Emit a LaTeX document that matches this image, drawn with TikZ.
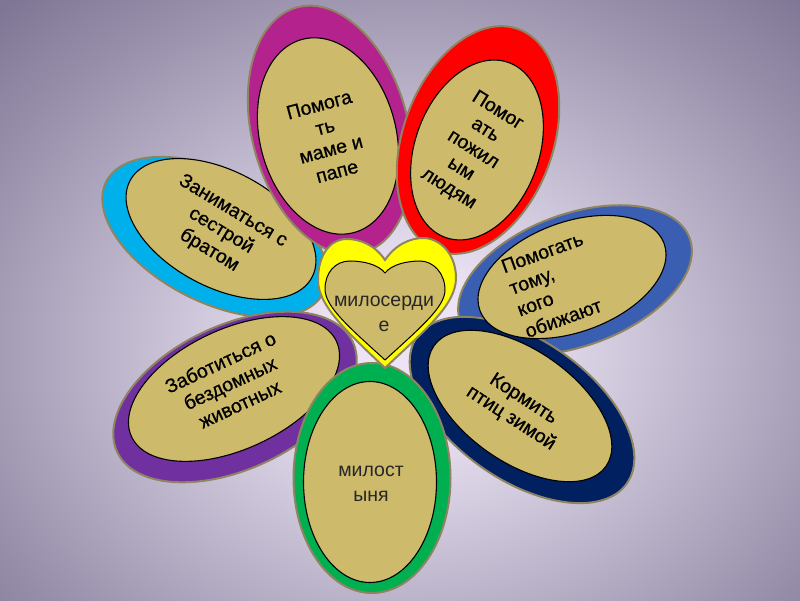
\documentclass[tikz,border=0pt]{standalone}
\usepackage{fontspec}
\setmainfont{Liberation Sans}
\newfontfamily\heavyfont[FakeBold=0.7]{Liberation Sans}
\usetikzlibrary{shapes.geometric}
\definecolor{tanc}{HTML}{CDBB6B}
\definecolor{rimc}{HTML}{8F8462}
\definecolor{cmag}{HTML}{B4228E}
\definecolor{cred}{HTML}{FF0000}
\definecolor{ccyan}{HTML}{00B0EA}
\definecolor{cblue}{HTML}{3A5EB2}
\definecolor{cnavy}{HTML}{002060}
\definecolor{cpurple}{HTML}{7030A0}
\definecolor{cgreen}{HTML}{00B050}
\definecolor{cyellow}{HTML}{FFFF00}
\definecolor{bgA}{HTML}{ECE4F4}
\definecolor{bgB}{HTML}{7E7694}
\pgfdeclareradialshading{bgshade}{\pgfpoint{0bp}{0bp}}{color(0bp)=(bgA); color(5bp)=(bgA); color(34bp)=(bgB); color(50bp)=(bgB)}
\tikzset{
  outerp/.style={ellipse, draw=rimc, line width=2pt, inner sep=0pt},
  innerp/.style={ellipse, draw=black, line width=1.1pt, fill=tanc, inner sep=0pt},
  lbl/.style={align=center, font=\heavyfont\fontsize{19.5}{23}\selectfont, text=black, inner sep=0pt},
  plainlbl/.style={align=center, font=\fontsize{19.5}{25}\selectfont, text=black!85, inner sep=0pt}
}
\begin{document}
\begin{tikzpicture}[x=1pt,y=1pt]
\useasboundingbox (0,0) rectangle (800,600);
\begin{scope}
\clip (0,0) rectangle (800,600);
\shade[shading=bgshade] (-20,-100) rectangle (840,600);
\end{scope}
% cyan petal
\node[outerp, fill=ccyan, rotate=-27, minimum width=244, minimum height=130] (o3) at (215,363) {};
\node[innerp, rotate=-28, minimum width=206, minimum height=116] (i3) at (221,371) {};
% magenta petal
\node[outerp, fill=cmag, rotate=105, minimum width=254, minimum height=156] (o1) at (330,470) {};
\node[innerp, rotate=105, minimum width=200, minimum height=136] (i1) at (328,464) {};
% red petal
\node[outerp, fill=cred, rotate=70, minimum width=236, minimum height=150] (o2) at (478,460) {};
\node[innerp, rotate=70, minimum width=186, minimum height=124] (i2) at (477,450) {};
% purple petal
\node[outerp, fill=cpurple, rotate=25, minimum width=260, minimum height=144] (o6) at (235,203) {};
\node[innerp, rotate=25, minimum width=226, minimum height=120] (i6) at (234,211) {};
% blue and navy petals
\node[outerp, fill=cblue, rotate=20, minimum width=244, minimum height=132] (o4) at (575,320) {};
\node[outerp, fill=cnavy, rotate=-35, minimum width=256, minimum height=140] (o5) at (522,190) {};
\node[innerp, rotate=20, minimum width=196, minimum height=110] (i4) at (572,323) {};
\node[innerp, rotate=-35, minimum width=210, minimum height=112] (i5) at (520,194) {};
% green petal
\node[outerp, fill=cgreen, minimum width=157, minimum height=230] (o7) at (372,122) {};
\node[innerp, minimum width=133, minimum height=201] (i7) at (370,118) {};
% labels
\node[lbl, rotate=15] (t1) at (328,462) {Помога\\ть\\маме и\\папе};
\node[lbl, rotate=-32] (t2) at (473,450) {Помог\\ать\\пожил\\ым\\людям};
\node[lbl, rotate=-31] (t3) at (221,369) {Заниматься с\\сестрой\\братом};
\node[lbl, rotate=20, align=left] (t4) at (554,315) {Помогать\\тому,\\кого\\обижают};
\node[lbl, rotate=-33] (t5) at (517,191) {Кормить\\птиц зимой};
\node[lbl, rotate=25] (t6) at (230,217) {Заботиться о\\бездомных\\животных};
\node[plainlbl] (t7) at (371,116) {милост\\ыня};
% heart
\draw[fill=cyellow, draw=rimc, line width=2pt]
  (385,340) .. controls (375,355) and (360,361) .. (347,361)
  .. controls (330,361) and (318,345) .. (318,320)
  .. controls (318,295) and (345,270) .. (385,232)
  .. controls (425,270) and (456,295) .. (456,322)
  .. controls (456,346) and (440,362) .. (423,362)
  .. controls (410,362) and (395,355) .. (385,340) -- cycle;
\draw[fill=tanc, draw=black, line width=1pt]
  (385,327) .. controls (378,336) and (362,339) .. (350,339)
  .. controls (335,339) and (325,327) .. (325,311)
  .. controls (325,293) and (350,272) .. (385,240)
  .. controls (420,272) and (445,293) .. (445,310)
  .. controls (445,327) and (433,339) .. (420,339)
  .. controls (408,339) and (392,336) .. (385,327) -- cycle;
\node[plainlbl] (heartlbl) at (384,286) {милосерди\\е};
\end{tikzpicture}
\end{document}
